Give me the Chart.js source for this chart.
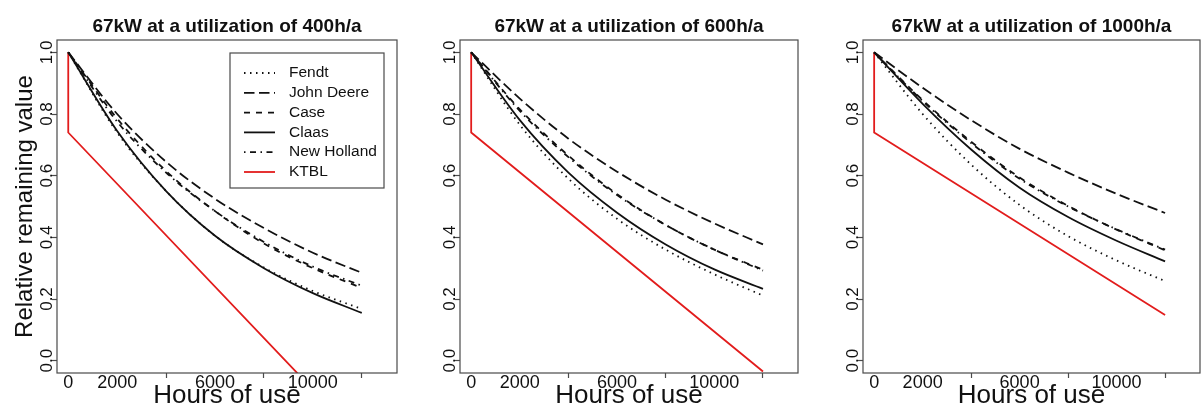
<!DOCTYPE html>
<html>
<head>
<meta charset="utf-8">
<title>Relative remaining value</title>
<script src="https://cdn.jsdelivr.net/npm/chart.js@4.4.1/dist/chart.umd.min.js"></script>
<style>
  body { margin: 0; background: #fff; }
  #wrap { position: relative; width: 1201px; height: 406px; overflow: hidden; }
  .panel { position: absolute; top: 0; }
</style>
</head>
<body>
<div id="wrap">
  <div class="panel" style="left:0px"><canvas id="c400" width="400" height="406"></canvas></div>
  <div class="panel" style="left:403px"><canvas id="c600" width="400" height="406"></canvas></div>
  <div class="panel" style="left:806px"><canvas id="c1000" width="395" height="406"></canvas></div>
</div>
<script>
const hours = [0, 2000, 4000, 6000, 8000, 10000, 12000];

// 400 h/a
const fendt400 = [1, 0.74, 0.55, 0.405, 0.302, 0.226, 0.168];
const deere400 = [1, 0.80, 0.645, 0.525, 0.43, 0.35, 0.285];
const case400  = [1, 0.785, 0.615, 0.485, 0.38, 0.30, 0.236];
const claas400 = [1, 0.745, 0.55, 0.405, 0.30, 0.219, 0.155];
const nh400    = [1, 0.775, 0.61, 0.485, 0.385, 0.305, 0.243];

// 600 h/a
const fendt600 = [1, 0.765, 0.59, 0.46, 0.36, 0.28, 0.211];
const deere600 = [1, 0.85, 0.72, 0.613, 0.522, 0.445, 0.377];
const case600  = [1, 0.815, 0.665, 0.54, 0.44, 0.36, 0.295];
const claas600 = [1, 0.78, 0.61, 0.48, 0.377, 0.296, 0.233];
const nh600    = [1, 0.81, 0.66, 0.537, 0.44, 0.36, 0.292];

// 1000 h/a
const fendt1000 = [1, 0.80, 0.636, 0.505, 0.404, 0.325, 0.258];
const deere1000 = [1, 0.885, 0.78, 0.687, 0.61, 0.541, 0.479];
const case1000  = [1, 0.845, 0.71, 0.594, 0.502, 0.425, 0.358];
const claas1000 = [1, 0.833, 0.685, 0.561, 0.466, 0.389, 0.322];
const nh1000    = [1, 0.842, 0.706, 0.59, 0.50, 0.426, 0.36];

// KTBL straight line (drop at 0, then linear)
const ktblHours = [0, 0, 12000];
const ktbl400  = [1, 0.74, -0.26];
const ktbl600  = [1, 0.74, -0.035];
const ktbl1000 = [1, 0.74, 0.148];

const brands = ['Fendt', 'John Deere', 'Case', 'Claas', 'New Holland', 'KTBL'];
const dashes = [[1.5, 4.5], [10.5, 4.5], [6, 6], [], [1.5, 4.5, 6, 4.5], []];
const xTicks = [0, 2000, 4000, 6000, 8000, 10000, 12000];
const xLabeled = [0, 2000, 6000, 10000];
const yTicks = [0, 0.2, 0.4, 0.6, 0.8, 1.0];

const fontFam = "'Liberation Sans', Arial, sans-serif";
const frameColor = '#4a4a4a';
const red = 'rgb(226,28,28)';
Chart.defaults.font.family = fontFam;
Chart.defaults.color = '#111';

function pts(xs, ys) {
  return xs.map((x, i) => ({x: x, y: ys[i]}));
}

// box around the plot region
const framePlugin = {
  id: 'frame',
  afterDraw(chart) {
    const a = chart.chartArea, ctx = chart.ctx;
    ctx.save();
    ctx.strokeStyle = frameColor;
    ctx.lineWidth = 1.2;
    ctx.strokeRect(a.left, a.top, a.right - a.left, a.bottom - a.top);
    ctx.restore();
  }
};

// legend in a box, like R's legend()
const boxLegend = {
  id: 'boxLegend',
  afterDraw(chart, args, opts) {
    if (!opts.show) return;
    const a = chart.chartArea, ctx = chart.ctx;
    const w = 154, h = 135;
    const x0 = a.right - 13 - w, y0 = a.top + 13;
    ctx.save();
    ctx.strokeStyle = frameColor;
    ctx.lineWidth = 1.2;
    ctx.strokeRect(x0, y0, w, h);
    ctx.font = '15.5px ' + fontFam;
    ctx.textBaseline = 'middle';
    chart.data.datasets.forEach((ds, i) => {
      const y = y0 + 20 + i * 19.8;
      ctx.setLineDash(ds.borderDash || []);
      ctx.strokeStyle = ds.borderColor;
      ctx.lineWidth = ds.borderWidth;
      ctx.beginPath();
      ctx.moveTo(x0 + 14, y);
      ctx.lineTo(x0 + 45, y);
      ctx.stroke();
      ctx.setLineDash([]);
      ctx.fillStyle = '#111';
      ctx.fillText(ds.label, x0 + 59, y);
    });
    ctx.restore();
  }
};

function makeChart(id, title, series, ktbl, padRight, first) {
  const sets = series.map((ys, i) => ({
    label: brands[i],
    data: pts(hours, ys),
    borderColor: '#111',
    borderWidth: 1.8,
    borderDash: dashes[i],
    pointRadius: 0,
    fill: false,
    cubicInterpolationMode: 'monotone'
  }));
  sets.push({
    label: 'KTBL',
    data: pts(ktblHours, ktbl),
    borderColor: red,
    borderWidth: 1.8,
    borderDash: [],
    pointRadius: 0,
    fill: false,
    tension: 0
  });

  return new Chart(document.getElementById(id), {
    type: 'line',
    data: { datasets: sets },
    plugins: [framePlugin, boxLegend],
    options: {
      responsive: false,
      animation: false,
      devicePixelRatio: 1,
      layout: { padding: { left: 0, right: padRight, top: 0, bottom: 0 } },
      plugins: {
        legend: { display: false },
        tooltip: { enabled: false },
        boxLegend: { show: first },
        title: { display: false }
      },
      scales: {
        // top axis only carries the panel title, centred over the plot box
        top: {
          type: 'linear',
          position: 'top',
          min: -460,
          max: 13440,
          afterFit: (s) => { s.height = 40; },
          border: { display: false },
          grid: { display: false },
          ticks: { display: false },
          title: {
            display: true,
            text: title,
            color: '#111',
            font: { size: 19, weight: 'bold', lineHeight: 1.2 },
            padding: { top: 15.6, bottom: 0 }
          }
        },
        x: {
          type: 'linear',
          position: 'bottom',
          min: -460,
          max: 13440,
          afterBuildTicks: (s) => { s.ticks = xTicks.map(v => ({value: v})); },
          afterFit: (s) => { s.height = 33; },
          border: { display: false },
          grid: {
            drawOnChartArea: false,
            drawTicks: true,
            tickLength: 5,
            tickWidth: 1.2,
            tickColor: (c) => xLabeled.includes(c.tick.value) ? 'rgba(0,0,0,0)' : frameColor
          },
          ticks: {
            autoSkip: false,
            maxRotation: 0,
            minRotation: 0,
            padding: -6,
            color: '#111',
            font: { size: 18 },
            callback: (v) => xLabeled.includes(v) ? String(v) : ''
          },
          title: {
            display: true,
            text: 'Hours of use',
            color: '#111',
            font: { size: 26, lineHeight: 0.8 },
            padding: 0
          }
        },
        y: {
          min: -0.04,
          max: 1.04,
          afterBuildTicks: (s) => { s.ticks = yTicks.map(v => ({value: v})); },
          afterFit: (s) => { s.width = 57; },
          border: { display: false },
          grid: {
            drawOnChartArea: false,
            drawTicks: true,
            tickLength: 5,
            tickWidth: 1.2,
            tickColor: frameColor
          },
          ticks: {
            autoSkip: false,
            minRotation: 90,
            maxRotation: 90,
            crossAlign: 'center',
            padding: -7,
            color: '#111',
            font: { size: 17 },
            callback: (v) => v.toFixed(1)
          },
          title: {
            display: first,
            text: 'Relative remaining value',
            color: '#111',
            font: { size: 24, lineHeight: 1 },
            padding: { top: 13, bottom: 0 }
          }
        }
      }
    }
  });
}

makeChart('c400', '67kW at a utilization of 400h/a',
  [fendt400, deere400, case400, claas400, nh400], ktbl400, 3, true);
makeChart('c600', '67kW at a utilization of 600h/a',
  [fendt600, deere600, case600, claas600, nh600], ktbl600, 5, false);
makeChart('c1000', '67kW at a utilization of 1000h/a',
  [fendt1000, deere1000, case1000, claas1000, nh1000], ktbl1000, 1, false);
</script>
</body>
</html>
